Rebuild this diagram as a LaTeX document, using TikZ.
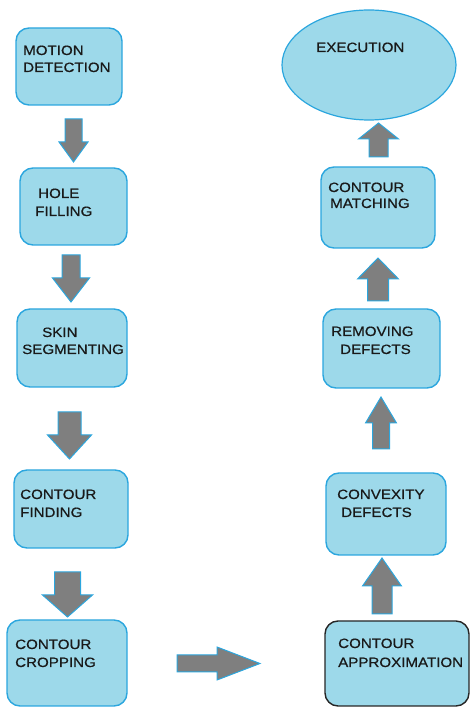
\documentclass[tikz,border=0pt]{standalone}
\usepackage{fontspec}
\setmainfont{Liberation Sans}[FakeStretch=1.12, FakeBold=0.6]
\usetikzlibrary{shapes.geometric}
\definecolor{boxfill}{HTML}{9DD9EA}
\definecolor{boxline}{HTML}{2BA6DE}
\definecolor{arrowfill}{HTML}{7F7F7F}
\begin{document}
\begin{tikzpicture}[x=1pt,y=1pt,
  box/.style={draw=boxline, fill=boxfill, line width=1.4pt, rounded corners=13pt,
    inner sep=0pt, minimum width=#1},
  box/.default=100pt,
  oval/.style={ellipse, draw=boxline, fill=boxfill, line width=1.2pt, inner sep=0pt},
  lbl/.style={anchor=base west, inner sep=0pt, text=black!90,
    font=\fontsize{13.5}{16}\selectfont},
  pics/blockarrow/.style n args={4}{code={
    \draw[fill=arrowfill, draw=boxline, line width=1pt, line join=miter]
      (0,{-#3/2}) -- ({#1-#2},{-#3/2}) -- ({#1-#2},{-#4/2}) -- (#1,0)
      -- ({#1-#2},{#4/2}) -- ({#1-#2},{#3/2}) -- (0,{#3/2}) -- cycle;
  }}]
\useasboundingbox (0,0) rectangle (470,707);

% left column
\node[box=106pt, minimum height=77pt] (b1) at (69,640.5) {};
\node[box=107pt, minimum height=77pt] (b2) at (73.5,500.5) {};
\node[box=110pt, minimum height=78pt] (b3) at (72,359) {};
\node[box=114pt, minimum height=78pt] (b4) at (71,198) {};
\node[box=120pt, minimum height=86pt] (b5) at (67,44) {};

% right column
\node[box=144pt, minimum height=85pt, draw=black!85] (b6) at (397,43.5) {};
\node[box=120pt, minimum height=82pt] (b7) at (386,193) {};
\node[box=117pt, minimum height=79pt] (b8) at (381.5,358.5) {};
\node[box=114pt, minimum height=81pt] (b9) at (378,499.5) {};
\node[oval, minimum width=174pt, minimum height=110pt] (b10) at (369,642) {};

% labels
\node[lbl] (t1a) at (23,652) {MOTION};
\node[lbl] (t1b) at (23,635) {DETECTION};
\node[lbl] (t2a) at (38,509) {HOLE};
\node[lbl] (t2b) at (35,491) {FILLING};
\node[lbl] (t3a) at (42,370) {SKIN};
\node[lbl] (t3b) at (22,353) {SEGMENTING};
\node[lbl] (t4a) at (20,208) {CONTOUR};
\node[lbl] (t4b) at (20,190) {FINDING};
\node[lbl] (t5a) at (15,58) {CONTOUR};
\node[lbl] (t5b) at (15,40) {CROPPING};
\node[lbl] (t6a) at (338,59) {CONTOUR};
\node[lbl] (t6b) at (338,40) {APPROXIMATION};
\node[lbl] (t7a) at (337,208) {CONVEXITY};
\node[lbl] (t7b) at (341,190) {DEFECTS};
\node[lbl] (t8a) at (331,371) {REMOVING};
\node[lbl] (t8b) at (340,353) {DEFECTS};
\node[lbl] (t9a) at (328,515) {CONTOUR};
\node[lbl] (t9b) at (330,499) {MATCHING};
\node[lbl] (t10) at (316,655) {EXECUTION};

% block arrows: tail point, then length, head length, shaft width, head width
\coordinate (a1) at (73.5,588);
\coordinate (a2) at (71,452);
\coordinate (a3) at (69.5,295);
\coordinate (a4) at (67.5,135);
\coordinate (a5) at (177,43.5);
\coordinate (a6) at (382,93);
\coordinate (a7) at (381,258);
\coordinate (a8) at (378,406);
\coordinate (a9) at (378.5,550);
\pic[rotate=-90] at (a1) {blockarrow={43}{20}{17}{29}};
\pic[rotate=-90] at (a2) {blockarrow={47}{24}{18}{37}};
\pic[rotate=-90] at (a3) {blockarrow={47}{24}{23}{44}};
\pic[rotate=-90] at (a4) {blockarrow={45}{22}{26}{50}};
\pic at (a5) {blockarrow={83}{43}{17}{33}};
\pic[rotate=90] at (a6) {blockarrow={56}{28}{20}{39}};
\pic[rotate=90] at (a7) {blockarrow={52}{26}{17}{31}};
\pic[rotate=90] at (a8) {blockarrow={43}{21}{21}{41}};
\pic[rotate=90] at (a9) {blockarrow={34}{16}{19}{40}};
\end{tikzpicture}
\end{document}
